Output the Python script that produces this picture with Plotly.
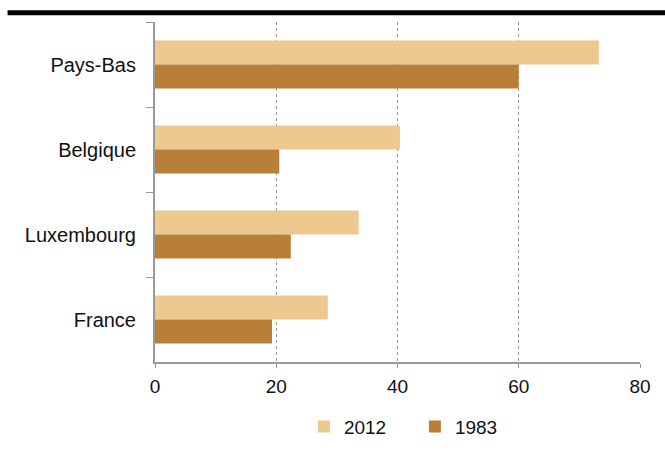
import plotly.graph_objects as go

categories = ["Pays-Bas", "Belgique", "Luxembourg", "France"]
values_2012 = [73.2, 40.4, 33.6, 28.5]
values_1983 = [60.0, 20.5, 22.4, 19.3]
x_ticks = [0, 20, 40, 60, 80]

c2012 = "#EDC98F"
c1983 = "#B97E37"

fig = go.Figure()
fig.add_trace(go.Bar(y=categories, x=values_2012, name="2012", orientation="h",
                     marker=dict(color=c2012, line=dict(width=0))))
fig.add_trace(go.Bar(y=categories, x=values_1983, name="1983", orientation="h",
                     marker=dict(color=c1983, line=dict(width=0))))

fig.update_layout(
    width=665, height=451,
    margin=dict(l=155, r=25, t=22, b=89, autoexpand=False),
    paper_bgcolor="white", plot_bgcolor="white",
    barmode="group", bargap=0.435, bargroupgap=0,
    font=dict(family="Liberation Sans, Arial, sans-serif", size=19, color="#111"),
    showlegend=True,
    legend=dict(orientation="h", x=0.307, xanchor="left", y=-0.19, yanchor="middle",
                font=dict(size=19), itemwidth=30, tracegroupgap=0,
                entrywidth=66, entrywidthmode="pixels"),
    xaxis=dict(range=[0, 80], tickvals=x_ticks, showgrid=True, gridcolor="#999",
               griddash="dot", gridwidth=1, showline=True, linecolor="#999", linewidth=2,
               ticks="outside", ticklen=4, tickcolor="#999", zeroline=False,
               ticklabelstandoff=2),
    yaxis=dict(autorange="reversed", tickson="boundaries", ticks="outside", ticklen=7,
               tickcolor="#999", showline=True, linecolor="#999", linewidth=2,
               showgrid=False, ticklabelstandoff=13, tickfont=dict(size=20)),
    shapes=[dict(type="line", xref="paper", yref="paper", x0=-0.304, x1=1.06,
                 y0=1.027, y1=1.027, line=dict(color="black", width=5))],
)

fig.write_html("out.html")
